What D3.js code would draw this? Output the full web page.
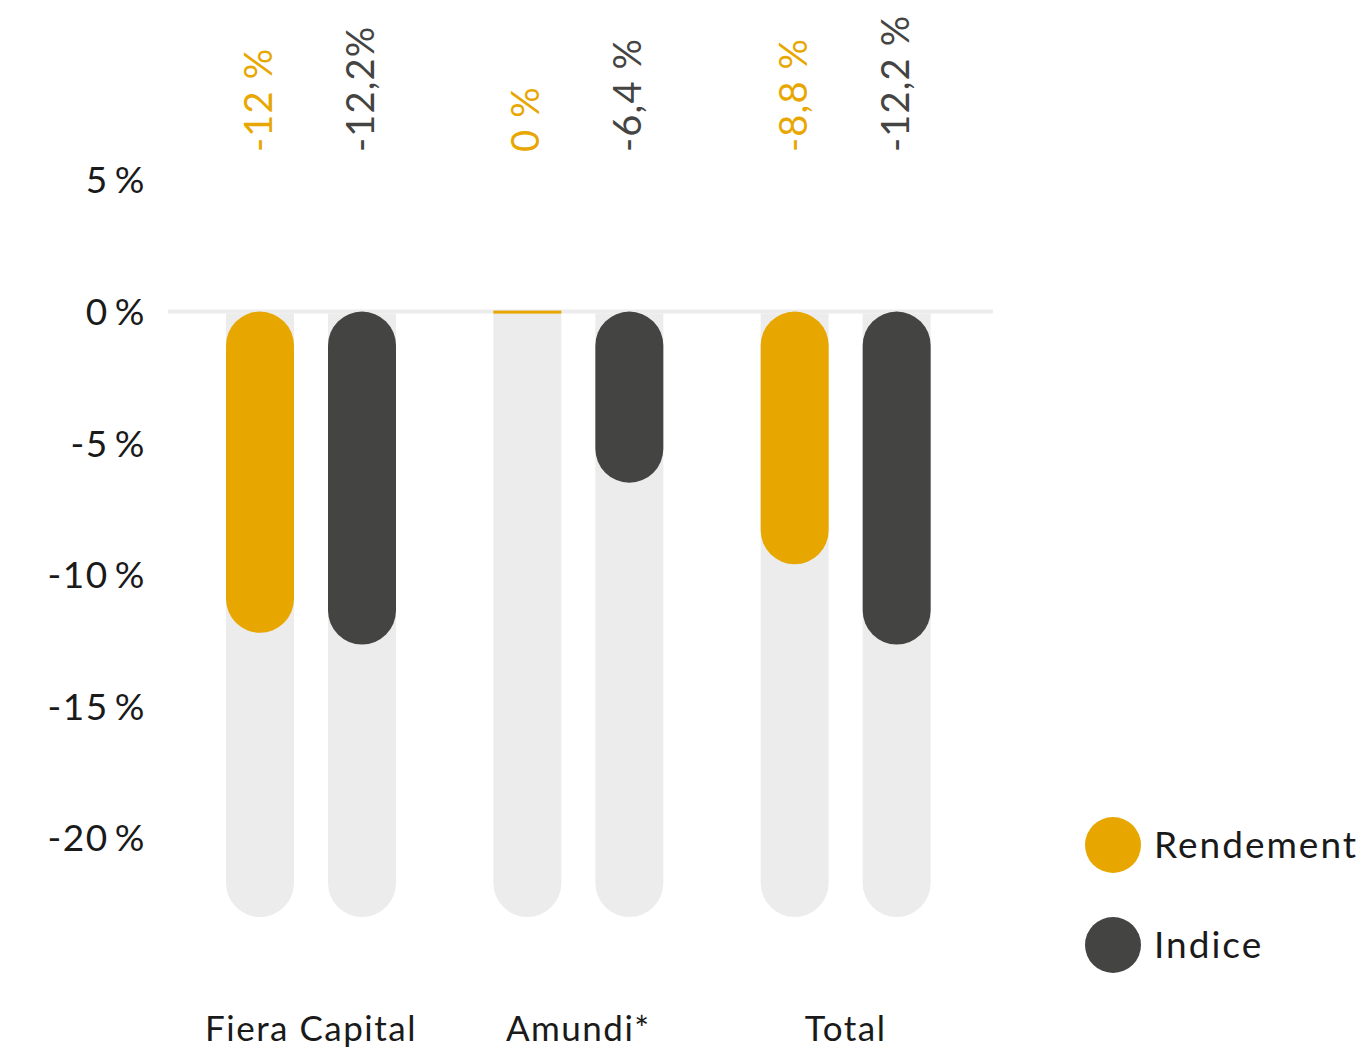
<!doctype html>
<html lang="fr">
<head>
<meta charset="utf-8">
<title>Rendement vs Indice</title>
<style>
  html, body { margin: 0; padding: 0; background: #fff; }
  svg text { font-family: Lato, "Noto Sans", sans-serif; }
</style>
</head>
<body>
<div id="chart"></div>
<script src="https://d3js.org/d3.v7.min.js"></script>
<script>
// data
var groups = ["Fiera Capital", "Amundi*", "Total"];
var series = ["Rendement", "Indice"];
var colors = ["#e8a700", "#444442"];
var rendement = [-12.2, 0, -9.6];
var indice = [-12.65, -6.5, -12.65];
var rendementLabels = ["-12 %", "0 %", "-8,8 %"];
var indiceLabels = ["-12,2%", "-6,4 %", "-12,2 %"];
var yTicks = [5, 0, -5, -10, -15, -20];
var floorValue = -23;

var width = 1363, height = 1047;

var svg = d3.select("#chart").append("svg")
    .attr("width", width)
    .attr("height", height);

var y = d3.scaleLinear().domain([5, floorValue]).range([180, 917]);

var x0 = d3.scaleBand().domain(groups).range([226, 1028]);
var x1 = d3.scaleBand().domain(series).range([0, 170]).paddingInner(1 / 3);

var barW = x1.bandwidth(), r = barW / 2;

// y axis labels
svg.append("g").selectAll("text")
    .data(yTicks).enter().append("text")
    .attr("x", 146)
    .attr("y", function(d) { return y(d); })
    .attr("dy", "0.36em")
    .attr("text-anchor", "end")
    .attr("font-size", 37)
    .attr("letter-spacing", 1.5)
    .attr("fill", "#1a1a1a")
    .text(function(d) { return d + "\u2009%"; });

// zero line
svg.append("line")
    .attr("x1", 168).attr("x2", 993)
    .attr("y1", y(0)).attr("y2", y(0))
    .attr("stroke", "#ececec").attr("stroke-width", 4);

var rows = [];
groups.forEach(function(g, i) {
    rows.push({ group: g, key: "Rendement", value: rendement[i], label: rendementLabels[i], color: colors[0] });
    rows.push({ group: g, key: "Indice", value: indice[i], label: indiceLabels[i], color: colors[1] });
});

function xPos(d) { return x0(d.group) + x1(d.key); }

// grey background tracks
svg.append("g").selectAll("path")
    .data(rows).enter().append("path")
    .attr("fill", "#ececec")
    .attr("d", function(d) {
        var x = xPos(d), top = y(0) + 2, bot = y(floorValue);
        return "M" + x + "," + top +
            "H" + (x + barW) +
            "V" + (bot - r) +
            "A" + r + "," + r + " 0 0 1 " + x + "," + (bot - r) + "Z";
    });

// value bars
svg.append("g").selectAll("rect")
    .data(rows).enter().append("rect")
    .attr("x", xPos)
    .attr("y", function(d) { return d.value === 0 ? y(0) - 1 : y(0); })
    .attr("width", barW)
    .attr("height", function(d) { return d.value === 0 ? 3 : y(d.value) - y(0); })
    .attr("rx", function(d) { return d.value === 0 ? 0 : r; })
    .attr("ry", function(d) { return d.value === 0 ? 0 : r; })
    .attr("fill", function(d) { return d.color; });

// rotated value labels
svg.append("g").selectAll("text")
    .data(rows).enter().append("text")
    .attr("transform", function(d) {
        return "translate(" + (xPos(d) + barW / 2 + 12) + ",152) rotate(-90)";
    })
    .attr("font-size", 38)
    .attr("letter-spacing", 1.2)
    .attr("fill", function(d) { return d.color; })
    .text(function(d) { return d.label; });

// group labels
svg.append("g").selectAll("text")
    .data(groups).enter().append("text")
    .attr("x", function(g) { return x0(g) + 85; })
    .attr("y", 1041)
    .attr("text-anchor", "middle")
    .attr("font-size", 35)
    .attr("letter-spacing", 1.5)
    .attr("fill", "#1a1a1a")
    .text(function(g) { return g; });

// legend
var legend = svg.append("g").selectAll("g")
    .data(series).enter().append("g")
    .attr("transform", function(d, i) { return "translate(1113," + (845 + i * 100) + ")"; });
legend.append("circle")
    .attr("r", 28)
    .attr("fill", function(d, i) { return colors[i]; });
legend.append("text")
    .attr("x", 41)
    .attr("dy", "0.36em")
    .attr("font-size", 37)
    .attr("letter-spacing", 2)
    .attr("fill", "#1a1a1a")
    .text(function(d) { return d; });
</script>
</body>
</html>
